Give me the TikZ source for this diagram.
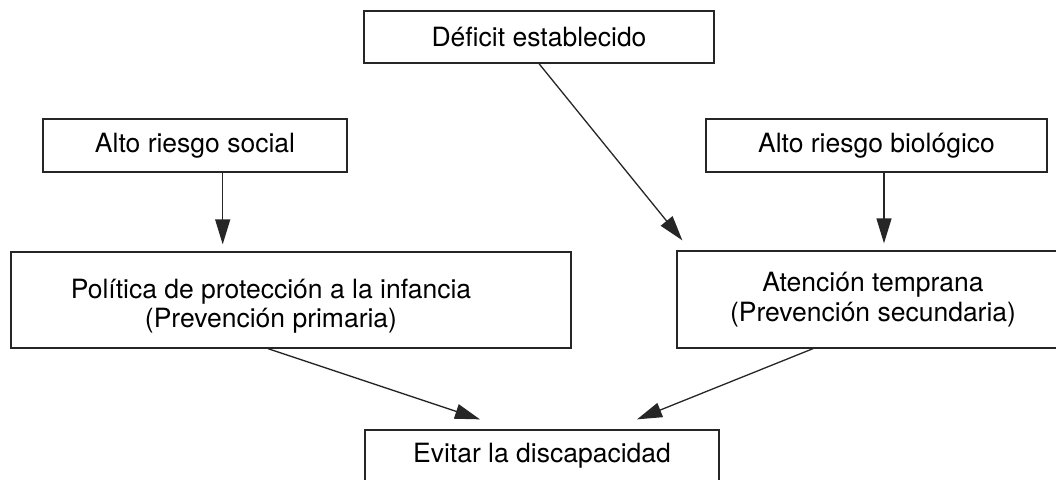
\documentclass[tikz,border=0pt]{standalone}
\usepackage{fontspec}
\setmainfont{TeX Gyre Heros}
\usetikzlibrary{arrows.meta}
\tikzset{
  box/.style={draw=black!85, line width=1.3pt, rectangle, inner sep=0pt, align=center,
    font=\fontsize{26.5}{29.5}\selectfont},
  arr/.style={draw=black!85, line width=1.3pt, -{Triangle[length=25pt,width=15pt]}}
}
\begin{document}
\begin{tikzpicture}[x=1pt,y=-1pt]
\clip (0,0) rectangle (1056,479);
\fill[white] (0,0) rectangle (1056,479);
\node[box, minimum width=350pt, minimum height=52pt] (def) at (539,37) {Déficit establecido};
\node[box, minimum width=304pt, minimum height=53pt] (soc) at (195,145.5) {Alto riesgo social};
\node[box, minimum width=341pt, minimum height=53pt] (bio) at (876.5,145.5) {Alto riesgo biológico};
\node[box, minimum width=560pt, minimum height=96pt,
  label={[align=center, font=\fontsize{26.5}{29.5}\selectfont, xshift=-20pt, yshift=-6pt]center:Política de protección a la infancia\\(Prevención primaria)}] (pol) at (291,300) {};
\node[box, minimum width=392pt, minimum height=97pt] (atn) at (873,299.5) {Atención temprana\\(Prevención secundaria)};
\node[box, minimum width=354pt, minimum height=52pt] (evi) at (542,456) {Evitar la discapacidad};
\coordinate (s1) at ([xshift=27.7pt]soc.south);
\coordinate (b1) at ([xshift=7.5pt]bio.south);
\draw[arr, shorten >=7pt] (s1) -- (s1 |- pol.north);
\draw[arr, shorten >=7pt] (b1) -- (b1 |- atn.north);
\draw[arr] (def.south) -- ([xshift=6pt,yshift=10pt]atn.north west);
\draw[arr] ([xshift=-23pt]pol.south) -- ([xshift=-62pt,yshift=10pt]evi.north);
\draw[arr] ([xshift=-60pt]atn.south) -- ([xshift=95pt,yshift=10pt]evi.north);
\end{tikzpicture}
\end{document}
